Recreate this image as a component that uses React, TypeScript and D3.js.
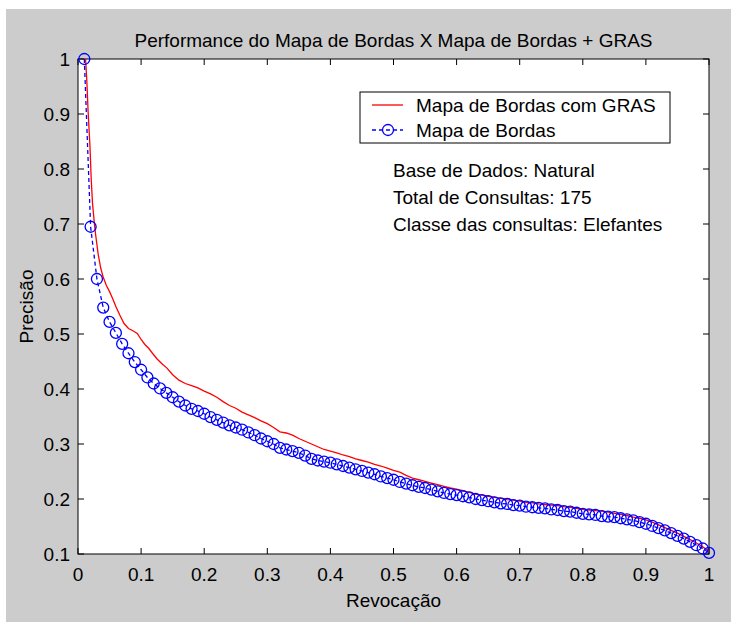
import React from "react";
import * as d3 from "d3";

// Mapa de Bordas com GRAS (red solid line)
const redRecall = [
  0.012, 0.014, 0.016, 0.019, 0.021, 0.023, 0.026, 0.028, 0.032, 0.036, 0.04, 0.045, 0.05, 0.055, 0.06,
  0.066, 0.073, 0.08, 0.087, 0.094, 0.1, 0.106, 0.112, 0.118, 0.125, 0.133, 0.141, 0.15, 0.16, 0.17,
  0.18, 0.19, 0.2, 0.21, 0.22, 0.23, 0.24, 0.25, 0.26, 0.27, 0.28, 0.29, 0.3, 0.31, 0.32, 0.33, 0.34,
  0.35, 0.36, 0.37, 0.38, 0.39, 0.4, 0.41, 0.42, 0.43, 0.44, 0.45, 0.46, 0.47, 0.48, 0.49, 0.5, 0.51,
  0.52, 0.53, 0.54, 0.55, 0.56, 0.57, 0.58, 0.59, 0.6, 0.61, 0.62, 0.63, 0.64, 0.65, 0.66, 0.67, 0.68,
  0.69, 0.7, 0.71, 0.72, 0.73, 0.74, 0.75, 0.76, 0.77, 0.78, 0.79, 0.8, 0.81, 0.82, 0.83, 0.84, 0.85,
  0.86, 0.87, 0.88, 0.89, 0.9, 0.91, 0.92, 0.93, 0.94, 0.95, 0.96, 0.97, 0.98, 0.99, 1.0,
];
const redPrecision = [
  1.0, 0.96, 0.905, 0.84, 0.78, 0.738, 0.7, 0.68, 0.645, 0.62, 0.603, 0.588, 0.577, 0.564, 0.55,
  0.535, 0.519, 0.51, 0.506, 0.501, 0.49, 0.481, 0.474, 0.465, 0.455, 0.446, 0.438, 0.426, 0.416, 0.41,
  0.406, 0.402, 0.396, 0.391, 0.385, 0.377, 0.37, 0.365, 0.358, 0.353, 0.348, 0.342, 0.337, 0.33, 0.322,
  0.32, 0.316, 0.31, 0.305, 0.3, 0.295, 0.29, 0.287, 0.284, 0.28, 0.277, 0.273, 0.27, 0.267, 0.263,
  0.26, 0.256, 0.252, 0.249, 0.243, 0.238, 0.235, 0.232, 0.229, 0.226, 0.223, 0.22, 0.218, 0.215,
  0.212, 0.209, 0.207, 0.205, 0.203, 0.201, 0.199, 0.198, 0.196, 0.194, 0.193, 0.191, 0.19, 0.189,
  0.188, 0.186, 0.185, 0.183, 0.181, 0.18, 0.179, 0.178, 0.176, 0.174, 0.172, 0.17, 0.167, 0.165,
  0.162, 0.158, 0.153, 0.148, 0.143, 0.138, 0.132, 0.126, 0.12, 0.113, 0.105,
];

// Mapa de Bordas (blue dashed line with circles), recall 0.01 .. 1.00
const blueRecall = d3.range(1, 101).map((i) => i / 100);
const bluePrecision = [
  1.0, 0.695, 0.6, 0.548, 0.522, 0.502, 0.482, 0.465, 0.449, 0.435,
  0.421, 0.41, 0.401, 0.393, 0.385, 0.377, 0.37, 0.364, 0.36, 0.355,
  0.349, 0.344, 0.339, 0.334, 0.33, 0.326, 0.321, 0.316, 0.31, 0.305,
  0.3, 0.293, 0.29, 0.287, 0.284, 0.279, 0.273, 0.27, 0.268, 0.266,
  0.263, 0.26, 0.257, 0.254, 0.251, 0.248, 0.245, 0.241, 0.238, 0.235,
  0.231, 0.228, 0.225, 0.222, 0.22, 0.217, 0.214, 0.211, 0.209, 0.207,
  0.205, 0.203, 0.2, 0.198, 0.196, 0.194, 0.192, 0.191, 0.189, 0.188,
  0.186, 0.185, 0.184, 0.183, 0.181, 0.18, 0.178, 0.177, 0.175, 0.173,
  0.172, 0.171, 0.169, 0.168, 0.167, 0.165, 0.163, 0.161, 0.158, 0.155,
  0.151, 0.147, 0.143, 0.138, 0.133, 0.128, 0.122, 0.116, 0.11, 0.102,
];

const xTicks = [0, 0.1, 0.2, 0.3, 0.4, 0.5, 0.6, 0.7, 0.8, 0.9, 1];
const yTicks = [0.1, 0.2, 0.3, 0.4, 0.5, 0.6, 0.7, 0.8, 0.9, 1];
const seriesNames = ["Mapa de Bordas com GRAS", "Mapa de Bordas"];
const notes = ["Base de Dados: Natural", "Total de Consultas: 175", "Classe das consultas: Elefantes"];

const width = 731;
const height = 623;
const left = 78;
const right = 709;
const top = 59;
const bottom = 554;
const font = "'Liberation Sans', Arial, sans-serif";
const fs = 19;

export default function App() {
  let xScale = d3.scaleLinear().domain([0, 1]).range([left, right]);
  let yScale = d3.scaleLinear().domain([0.1, 1]).range([bottom, top]);

  let line = d3
    .line<[number, number]>()
    .x((d) => xScale(d[0]))
    .y((d) => yScale(d[1]));

  let redPts = redRecall.map((r, i) => [r, redPrecision[i]] as [number, number]);
  let bluePts = blueRecall.map((r, i) => [r, bluePrecision[i]] as [number, number]);

  return (
    <div style={{ position: "absolute", left: 0, top: 0 }}>
      <svg width={width} height={height} style={{ display: "block", fontFamily: font }}>
        <rect x={0} y={0} width={width} height={height} fill="#fff" />
        <rect x={6} y={9} width={width - 6} height={613} fill="#cccccc" />
        <rect x={left} y={top} width={right - left} height={bottom - top} fill="#fff" />

        {/* ticks on all four sides */}
        {xTicks.map((t) => (
          <g key={"x" + t}>
            <line x1={xScale(t)} x2={xScale(t)} y1={bottom} y2={bottom - 6} stroke="#000" />
            <line x1={xScale(t)} x2={xScale(t)} y1={top} y2={top + 6} stroke="#000" />
            <text x={xScale(t)} y={581} fontSize={fs} textAnchor="middle" fill="#000">
              {t}
            </text>
          </g>
        ))}
        {yTicks.map((t) => (
          <g key={"y" + t}>
            <line x1={left} x2={left + 6} y1={yScale(t)} y2={yScale(t)} stroke="#000" />
            <line x1={right} x2={right - 6} y1={yScale(t)} y2={yScale(t)} stroke="#000" />
            <text x={70} y={yScale(t) + 7} fontSize={fs} textAnchor="end" fill="#000">
              {t}
            </text>
          </g>
        ))}
        <rect x={left} y={top} width={right - left} height={bottom - top} fill="none" stroke="#000" />

        <path d={line(redPts) || ""} fill="none" stroke="#ff0000" strokeWidth={1.3} />
        <path d={line(bluePts) || ""} fill="none" stroke="#0000ff" strokeWidth={1.3} strokeDasharray="4,3" />
        {bluePts.map((d, i) => (
          <circle key={i} cx={xScale(d[0])} cy={yScale(d[1])} r={5.5} fill="none" stroke="#0000ff" strokeWidth={1.3} />
        ))}

        {/* legend */}
        <rect x={360} y={92} width={310} height={51} fill="#fff" stroke="#000" />
        <line x1={372} x2={403} y1={105} y2={105} stroke="#ff0000" strokeWidth={1.3} />
        <text x={416} y={112} fontSize={fs} fill="#000">
          {seriesNames[0]}
        </text>
        <line x1={372} x2={403} y1={130} y2={130} stroke="#0000ff" strokeWidth={1.3} strokeDasharray="4,3" />
        <circle cx={388} cy={130} r={5.5} fill="none" stroke="#0000ff" strokeWidth={1.3} />
        <text x={416} y={137} fontSize={fs} fill="#000">
          {seriesNames[1]}
        </text>

        {notes.map((n, i) => (
          <text key={n} x={393} y={177 + i * 27} fontSize={fs} fill="#000">
            {n}
          </text>
        ))}

        <text x={(left + right) / 2} y={47} fontSize={fs} textAnchor="middle" fill="#000">
          Performance do Mapa de Bordas X Mapa de Bordas + GRAS
        </text>
        <text x={(left + right) / 2} y={607} fontSize={fs} textAnchor="middle" fill="#000">
          Revocação
        </text>
        <text
          transform={`translate(33, ${(top + bottom) / 2}) rotate(-90)`}
          fontSize={fs}
          textAnchor="middle"
          fill="#000"
        >
          Precisão
        </text>
      </svg>
    </div>
  );
}
